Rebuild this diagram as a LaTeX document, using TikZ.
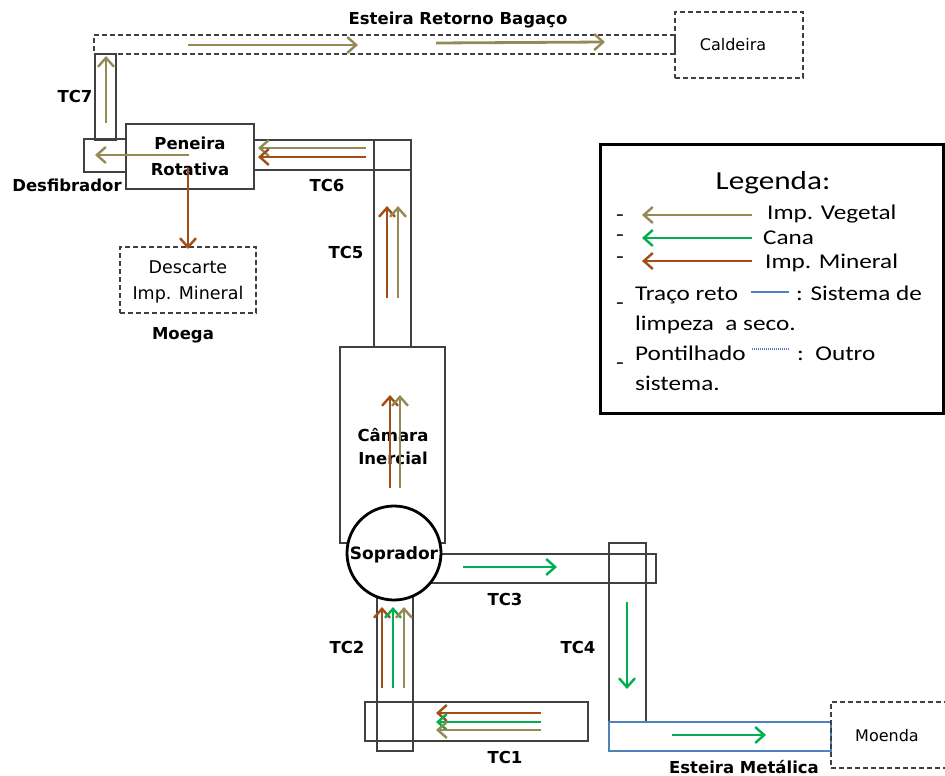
\documentclass[tikz,border=0pt]{standalone}
\usepackage{fontspec}
\setmainfont{DejaVu Sans}
\newfontfamily\legfont[FakeStretch=1.2]{Carlito}
\usetikzlibrary{arrows.meta,fit}
\definecolor{impveg}{HTML}{948A54}
\definecolor{canag}{HTML}{00B050}
\definecolor{impmin}{HTML}{A24F17}
\definecolor{boxc}{HTML}{404040}
\definecolor{beltblue}{HTML}{4F81BD}
\begin{document}
\begin{tikzpicture}[x=1pt,y=-1pt,
  conv/.style={draw=boxc,line width=1.3pt,inner sep=0pt,outer sep=0pt},
  dbox/.style={conv,dash pattern=on 5pt off 3pt},
  lbl/.style={font=\fontsize{16.5}{19}\selectfont\bfseries,inner sep=0pt},
  txt/.style={font=\fontsize{16}{26}\selectfont,inner sep=0pt,align=center},
  flow/.style={line width=2.8pt,-{Straight Barb[length=9pt,width=16pt,line width=2.4pt]}},
  leg/.style={font=\legfont\fontsize{21}{25}\selectfont,inner sep=0pt,anchor=base west}
]
\useasboundingbox (0,0) rectangle (945,776);
\clip (0,0) rectangle (945,776);

% top belt and boiler
\node[dbox,fit={(94,35) (675,54)}] (retorno) {};
\node[dbox,fit={(675,12) (803,78)}] (caldeira) {};
\node[txt] (caldt) at (733,45) {Caldeira};
\node[lbl] (retornol) at (458,20) {Esteira Retorno Bagaço};

% TC7, desfibrador, peneira
\node[conv,fit={(95,54) (116,140)}] (tc7) {};
\node[conv,fit={(84,139) (126,172)}] (desf) {};
\node[conv,fill=white,fit={(126,124) (254,189)}] (pen) {};
\node[lbl,align=center,font=\fontsize{16.5}{26}\selectfont\bfseries] (pent) at (190,156) {Peneira\\Rotativa};
\node[lbl] (tc7l) at (75,96) {TC7};
\node[lbl] (desfl) at (67,185) {Desfibrador};

% TC6 / TC5
\node[conv,fit={(254,140) (411,170)}] (tc6) {};
\node[conv,fit={(374,140) (411,347)}] (tc5) {};
\node[lbl] (tc6l) at (327,185) {TC6};
\node[lbl] (tc5l) at (346,252) {TC5};

% Descarte
\node[dbox,fit={(120,247) (256,313)}] (desc) {};
\node[txt,font=\fontsize{17.5}{26}\selectfont] (desct) at (188,282) {Descarte\\Imp. Mineral};
\node[lbl] (moega) at (183,335) {Moega};

% Camara inercial
\node[conv,fit={(340,347) (445,543)}] (cam) {};

% TC3, TC4, TC2, TC1
\node[conv,fit={(430,554) (656,583)}] (tc3) {};
\node[conv,fit={(609,543) (646,722)}] (tc4) {};
\node[conv,fit={(377,590) (413,751)}] (tc2) {};
\node[conv,fit={(365,702) (588,741)}] (tc1) {};
\node[draw=beltblue,line width=1.1pt,inner sep=0pt,fit={(609,722) (831,751)}] (metal) {};
\node[dbox,fit={(831,702) (965,768)}] (moenda) {};
\node[txt] (moendat) at (887,736) {Moenda};

% Soprador
\node[circle,draw=black,line width=2.8pt,fill=white,minimum size=94pt,inner sep=0pt] (sop) at (394,553) {};
\node[lbl,font=\fontsize{17}{20}\selectfont\bfseries] (sopt) at (394,555) {Soprador};
\node[lbl,align=center,font=\fontsize{16.5}{23}\selectfont\bfseries] (camt) at (393,447) {Câmara\\Inercial};

% labels
\node[lbl] (tc3l) at (505,599) {TC3};
\node[lbl] (tc4l) at (578,647) {TC4};
\node[lbl] (tc2l) at (347,647) {TC2};
\node[lbl] (tc1l) at (505,757) {TC1};
\node[lbl] (metall) at (744,767) {Esteira Metálica};

% flows
\draw[flow,impveg] (188,45) -- (358,45);
\draw[flow,impveg] (436,43) -- (605,42);
\draw[flow,impveg] (106,123) -- (106,56);
\draw[flow,impveg] (189,155) -- (95,155);
\draw[flow,impveg] (366,148) -- (258,148);
\draw[flow,impmin] (366,157) -- (258,157);
\draw[flow,impmin] (188,168) -- (188,249);
\draw[flow,impmin] (387,298) -- (387,206);
\draw[flow,impveg] (398,298) -- (398,206);
\draw[flow,impmin] (390,488) -- (390,395);
\draw[flow,impveg] (400,488) -- (400,395);
\draw[flow,canag] (463,567) -- (557,567);
\draw[flow,canag] (627,602) -- (627,689);
\draw[flow,canag] (672,735) -- (766,735);
\draw[flow,impmin] (382,688) -- (382,607);
\draw[flow,canag] (393,688) -- (393,607);
\draw[flow,impveg] (404,688) -- (404,607);
\draw[flow,impmin] (541,713) -- (436,713);
\draw[flow,canag] (541,722) -- (436,722);
\draw[flow,impveg] (541,730) -- (436,730);

% legend
\node[draw=black,line width=3pt,inner sep=0pt,fit={(600,144) (943,413)}] (legbox) {};
\node[font=\legfont\fontsize{26}{30}\selectfont,inner sep=0pt,anchor=base] (legt) at (773,189) {Legenda:};
\node[leg] (d1) at (616,221) {-};
\node[leg] (d2) at (616,241) {-};
\node[leg] (d3) at (616,263) {-};
\node[leg] (d4) at (616,309) {-};
\node[leg] (d5) at (616,369) {-};
\draw[flow,impveg] (752,215) -- (642,215);
\draw[flow,canag] (752,238) -- (642,238);
\draw[flow,impmin] (752,261) -- (642,261);
\node[leg] (l1) at (767,219) {Imp. Vegetal};
\node[leg] (l2) at (763,244) {Cana};
\node[leg] (l3) at (765,268) {Imp. Mineral};
\node[leg] (l4) at (635,300) {Traço reto};
\draw[beltblue,line width=1.3pt] (751,292) -- (789,292);
\node[leg] (l4b) at (796,300) {: Sistema de};
\node[leg] (l5) at (635,330) {limpeza\ \ a seco.};
\node[leg] (l6) at (635,360) {Pontilhado};
\draw[beltblue,line width=1.3pt,dash pattern=on 1pt off 1pt] (752,349) -- (789,349);
\node[leg] (l6b) at (797,360) {:\ \ Outro};
\node[leg] (l7) at (635,390) {sistema.};
\end{tikzpicture}
\end{document}
